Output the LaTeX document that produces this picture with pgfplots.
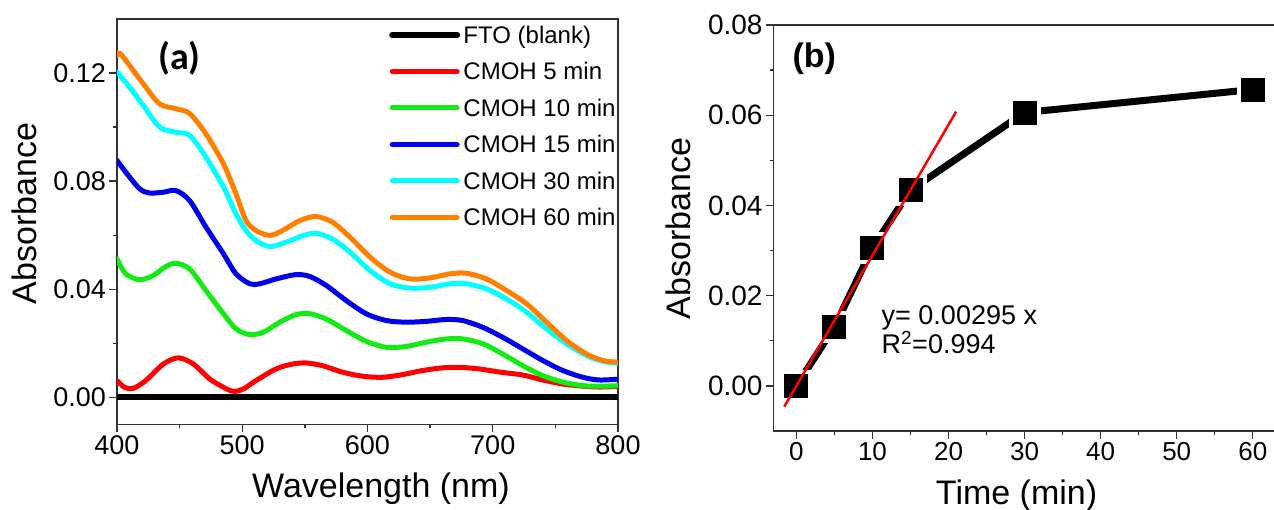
\documentclass[border=0pt]{standalone}
\usepackage{pgfplots}
\pgfplotsset{compat=1.18}
\usepackage{fontspec}
\setmainfont{Liberation Sans}
\newfontfamily\carlito{Carlito}
\definecolor{cgreen}{RGB}{20,235,20}
\definecolor{cblue}{RGB}{0,0,235}
\definecolor{ccyan}{RGB}{0,255,255}
\definecolor{corange}{RGB}{255,128,0}
\definecolor{axgray}{RGB}{50,50,50}
\begin{document}
\begin{tikzpicture}
\useasboundingbox (0pt,0pt) rectangle (1274pt,509pt);
\pgfplotsset{common/.style={
  scale only axis, anchor=south west,
  axis line style={line width=1.4pt, axgray},
  tick align=outside, xtick pos=bottom, ytick pos=left,
  major tick length=7.5pt, minor tick length=4pt,
  tick style={line width=1.3pt, axgray},
  scaled y ticks=false, scaled x ticks=false,
  /pgf/number format/assume math mode=true,
  label style={font=\fontsize{34}{40}\selectfont},
  yticklabel style={/pgf/number format/fixed, /pgf/number format/fixed zerofill, /pgf/number format/precision=2},
}}
% ---------- panel (a)
\begin{axis}[common, at={(117pt,84.7pt)}, width=501pt, height=405.3pt,
  xmin=400, xmax=800, ymin=-0.01, ymax=0.14,
  xtick={400,500,600,700,800}, minor x tick num=1,
  ytick={0,0.04,0.08,0.12}, minor y tick num=1,
  tick label style={font=\fontsize{27}{30}\selectfont},
  xlabel={Wavelength (nm)}, ylabel={Absorbance},
  xlabel style={at={(axis description cs:0.527,-0.1794)}, anchor=base},
  ylabel style={at={(axis description cs:-0.1603,0.5206)}, anchor=base},
  legend style={draw=none, fill=none, at={(0.5433,1.0056)}, anchor=north west,
    inner sep=0pt, outer sep=0pt, row sep=0pt,
    font=\fontsize{24}{28}\selectfont,
    nodes={inner sep=0pt, minimum height=36.5pt, text height=17pt, text depth=0pt},
    cells={anchor=west},
    /tikz/every odd column/.append style={column sep=3.3pt}},
  legend image code/.code={\draw[#1, line cap=round] (0pt,0pt) -- (65pt,0pt);},
]
\addplot[black, line width=6pt, mark=none] coordinates {(400,0) (800,0)};
\addplot[red, line width=5pt, smooth, mark=none, line join=round, line cap=round] coordinates {
(400,0.0062) (406,0.0037) (413,0.0033) (423,0.0062) (437,0.0123) (449,0.0146) (461,0.0123)
(474,0.0068) (485,0.0037) (493,0.0022) (501,0.0031) (511,0.0062) (527,0.0105) (540,0.0123)
(551,0.0127) (564,0.0117) (580,0.0093) (596,0.0078) (612,0.0074) (628,0.0084) (644,0.0099)
(660,0.0109) (673,0.0111) (689,0.0105) (706,0.0093) (722,0.0084) (730,0.0076) (740,0.0064)
(756,0.0049) (772,0.0041) (785,0.0038) (800,0.0040)};
\addplot[cgreen, line width=5pt, smooth, mark=none, line join=round, line cap=round] coordinates {
(400,0.0512) (407,0.0457) (418,0.0435) (429,0.0451) (439,0.0484) (447,0.0496) (458,0.0475)
(471,0.0395) (485,0.0309) (495,0.0253) (506,0.0232) (517,0.0241) (530,0.0278) (543,0.0306)
(554,0.0309) (567,0.0290) (583,0.0247) (599,0.0207) (615,0.0185) (631,0.0188) (647,0.0204)
(663,0.0216) (676,0.0216) (692,0.0198) (708,0.0160) (724,0.0117) (740,0.0080) (756,0.0056)
(772,0.0043) (785,0.0041) (800,0.0043)};
\addplot[cblue, line width=5pt, smooth, mark=none, line join=round, line cap=round] coordinates {
(400,0.0877) (407,0.0833) (418,0.0772) (426,0.0756) (437,0.0759) (447,0.0765) (458,0.0728)
(471,0.0630) (485,0.0531) (495,0.0457) (506,0.0420) (514,0.0420) (527,0.0438) (543,0.0454)
(554,0.0447) (567,0.0414) (583,0.0358) (599,0.0309) (615,0.0284) (631,0.0278) (647,0.0281)
(663,0.0288) (676,0.0284) (692,0.0259) (708,0.0222) (724,0.0179) (740,0.0136) (756,0.0099)
(772,0.0074) (785,0.0064) (800,0.0067)};
\addplot[ccyan, line width=5pt, smooth, mark=none, line join=round, line cap=round] coordinates {
(400,0.1204) (410,0.1148) (421,0.1080) (434,0.1000) (447,0.0981) (458,0.0969) (471,0.0889)
(485,0.0778) (495,0.0679) (503,0.0617) (511,0.0580) (522,0.0558) (535,0.0574) (549,0.0599)
(559,0.0607) (572,0.0586) (586,0.0537) (602,0.0469) (618,0.0420) (634,0.0404) (650,0.0407)
(666,0.0420) (679,0.0420) (695,0.0401) (711,0.0364) (727,0.0315) (743,0.0253) (759,0.0198)
(775,0.0154) (788,0.0133) (800,0.0126)};
\addplot[corange, line width=5pt, smooth, mark=none, line join=round, line cap=round] coordinates {
(400,0.1265) (403,0.1270) (421,0.1160) (434,0.1086) (447,0.1068) (458,0.1050) (471,0.0975)
(485,0.0864) (495,0.0753) (503,0.0654) (511,0.0617) (522,0.0599) (532,0.0617) (546,0.0654)
(559,0.0669) (572,0.0648) (586,0.0593) (602,0.0519) (618,0.0463) (634,0.0438) (650,0.0442)
(666,0.0457) (679,0.0459) (695,0.0438) (711,0.0395) (727,0.0346) (743,0.0278) (759,0.0210)
(775,0.0160) (788,0.0136) (800,0.0130)};
\legend{FTO (blank), CMOH 5 min, CMOH 10 min, CMOH 15 min, CMOH 30 min, CMOH 60 min}
\node[font=\carlito\bfseries\fontsize{38}{42}\selectfont] at (rel axis cs:0.1248,0.904) {(a)};
\end{axis}
% ---------- panel (b)
\begin{axis}[common, at={(773.6pt,78pt)}, width=502pt, height=406pt,
  xmin=-3, xmax=63, ymin=-0.01, ymax=0.08,
  xtick={0,10,20,30,40,50,60}, minor x tick num=1,
  ytick={0,0.02,0.04,0.06,0.08}, minor y tick num=1,
  clip marker paths=true,
  xticklabel style={font=\fontsize{26}{30}\selectfont},
  yticklabel style={font=\fontsize{28}{32}\selectfont},
  xlabel={Time (min)}, ylabel={Absorbance},
  xlabel style={at={(axis description cs:0.484,-0.18)}, anchor=base},
  ylabel style={at={(axis description cs:-0.1657,0.499)}, anchor=base},
]
\addplot[black, line width=7pt, mark=square*, mark size=14pt,
  mark options={fill=black, draw=white, line width=4pt, solid}] coordinates {
(0,0) (5,0.0131) (10,0.0306) (15,0.0434) (30,0.0606) (60,0.0657)};
\addplot[red, line width=2.5pt, mark=none] coordinates {(-1.6,-0.0046) (21,0.0608)};
\node[anchor=base west, font=\fontsize{27}{30}\selectfont] at (axis cs:10.75,0.01352) {y= 0.00295 x};
\node[anchor=base west, font=\fontsize{27}{30}\selectfont] at (axis cs:10.75,0.00709) {R\textsuperscript{2}=0.994};
\node[font=\bfseries\fontsize{34}{40}\selectfont] at (rel axis cs:0.081,0.916) {(b)};
\end{axis}
\end{tikzpicture}
\end{document}
